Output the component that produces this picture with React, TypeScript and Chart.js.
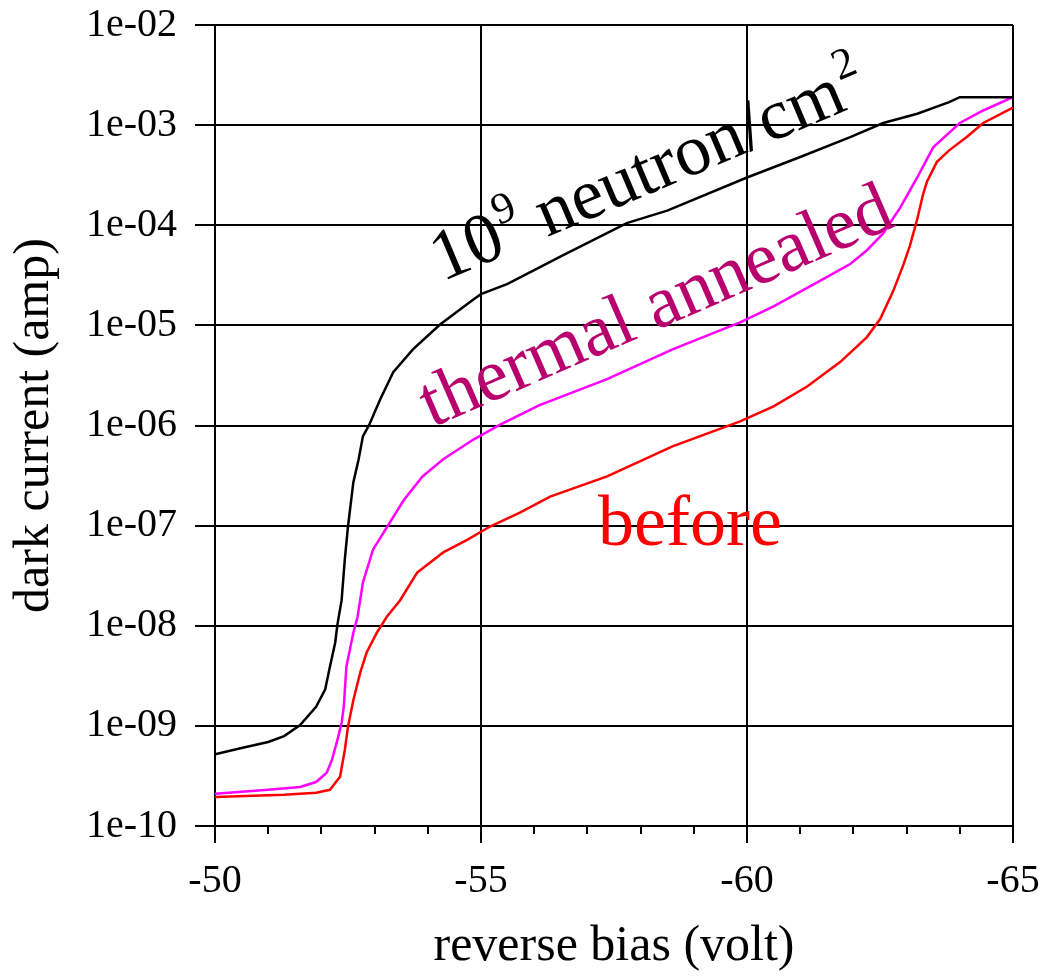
import React, { useEffect, useRef } from "react";
import { Chart, registerables } from "chart.js";

Chart.register(...registerables);

// reverse bias (volt) and dark current (amp) for each curve
const biasNeutron = [-50, -50.5, -51, -51.3, -51.6, -51.9, -52.07, -52.16, -52.26, -52.3, -52.38, -52.44, -52.5, -52.6, -52.7, -52.78, -52.9, -53.1, -53.35, -53.72, -54.23, -54.85, -55, -55.5, -56.5, -57.74, -58.5, -60, -61, -61.94, -62.56, -63.2, -63.8, -64.0, -65];
const currentNeutron = [5.2e-10, 6.0e-10, 6.9e-10, 7.9e-10, 1.02e-9, 1.55e-9, 2.3e-9, 3.9e-9, 6.8e-9, 1.02e-8, 1.8e-8, 4.6e-8, 9.8e-8, 2.7e-7, 4.6e-7, 7.8e-7, 1.02e-6, 1.8e-6, 3.4e-6, 5.75e-6, 1.02e-5, 1.8e-5, 2.05e-5, 2.6e-5, 4.9e-5, 1.05e-4, 1.4e-4, 3.0e-4, 4.8e-4, 7.6e-4, 1.05e-3, 1.3e-3, 1.7e-3, 1.9e-3, 1.9e-3];

const biasAnnealed = [-50, -51, -51.6, -51.9, -52.1, -52.2, -52.3, -52.38, -52.42, -52.47, -52.6, -52.68, -52.78, -52.97, -53.26, -53.55, -53.9, -54.29, -54.85, -55.36, -56.1, -57.37, -58.6, -59.87, -60.5, -61.43, -61.94, -62.25, -62.56, -62.88, -63.2, -63.5, -64.0, -64.44, -65];
const currentAnnealed = [2.1e-10, 2.3e-10, 2.45e-10, 2.75e-10, 3.4e-10, 4.6e-10, 7.2e-10, 1.07e-9, 1.55e-9, 3.9e-9, 8.5e-9, 1.23e-8, 2.7e-8, 5.75e-8, 1.02e-7, 1.8e-7, 3.1e-7, 4.6e-7, 7.2e-7, 1.02e-6, 1.6e-6, 2.9e-6, 5.75e-6, 1.07e-5, 1.55e-5, 2.9e-5, 4.1e-5, 5.6e-5, 8.3e-5, 1.5e-4, 3.0e-4, 6.0e-4, 1.05e-3, 1.4e-3, 1.9e-3];

const biasBefore = [-50, -51.3, -51.9, -52.16, -52.35, -52.44, -52.5, -52.6, -52.73, -52.85, -53.04, -53.23, -53.48, -53.8, -54.29, -54.74, -55.17, -55.73, -56.3, -57.37, -58.6, -59.87, -60.5, -61.13, -61.75, -62.25, -62.5, -62.74, -62.93, -63.06, -63.2, -63.3, -63.38, -63.57, -63.8, -64.13, -64.44, -65];
const currentBefore = [1.95e-10, 2.05e-10, 2.15e-10, 2.3e-10, 3.1e-10, 5.75e-10, 9.8e-10, 1.8e-9, 3.4e-9, 5.4e-9, 8.5e-9, 1.23e-8, 1.8e-8, 3.4e-8, 5.4e-8, 7.2e-8, 9.8e-8, 1.35e-7, 1.95e-7, 3.1e-7, 6.2e-7, 1.1e-6, 1.55e-6, 2.45e-6, 4.3e-6, 7.6e-6, 1.15e-5, 2.15e-5, 3.9e-5, 6.2e-5, 1.15e-4, 1.95e-4, 2.7e-4, 4.3e-4, 5.6e-4, 7.6e-4, 1.05e-3, 1.5e-3];

const yTickExponents = [-10, -9, -8, -7, -6, -5, -4, -3, -2];
const xMajorTicks = [-50, -55, -60, -65];
const xMinorTicks = [-51, -52, -53, -54, -56, -57, -58, -59, -61, -62, -63, -64];

const SERIF = "'Liberation Serif', 'Times New Roman', serif";

export default function App() {
  const ref = useRef<HTMLCanvasElement>(null);

  useEffect(() => {
    if (!ref.current) return;
    const pts = (xs: number[], ys: number[]) => xs.map((x, i) => ({ x, y: ys[i] }));

    const minorTickPlugin = {
      id: "minorTicks",
      afterDraw(chart: any) {
        const xs = chart.scales.x;
        const ctx = chart.ctx;
        const bottom = chart.chartArea.bottom;
        ctx.save();
        ctx.strokeStyle = "#000";
        ctx.lineWidth = 2;
        xMinorTicks.forEach((v) => {
          const px = Math.round(xs.getPixelForValue(v));
          ctx.beginPath();
          ctx.moveTo(px, bottom);
          ctx.lineTo(px, bottom + 8);
          ctx.stroke();
        });
        ctx.restore();
      },
    };

    const labelPlugin = {
      id: "curveLabels",
      afterDraw(chart: any) {
        const xs = chart.scales.x;
        const ys = chart.scales.y;
        const ctx = chart.ctx;
        ctx.save();
        ctx.textBaseline = "alphabetic";
        ctx.textAlign = "left";

        // 10^9 neutron/cm^2
        ctx.save();
        ctx.translate(xs.getPixelForValue(-54.27), ys.getPixelForValue(2.72e-5));
        ctx.rotate((-23 * Math.PI) / 180);
        ctx.fillStyle = "#000";
        ctx.font = `72px ${SERIF}`;
        let cx = 0;
        ctx.fillText("10", cx, 0);
        cx += ctx.measureText("10").width + 2;
        ctx.font = `44px ${SERIF}`;
        ctx.fillText("9", cx, -30);
        cx += ctx.measureText("9").width;
        ctx.font = `72px ${SERIF}`;
        ctx.fillText(" neutron/cm", cx, 0);
        cx += ctx.measureText(" neutron/cm").width + 2;
        ctx.font = `44px ${SERIF}`;
        ctx.fillText("2", cx, -30);
        ctx.restore();

        // thermal annealed
        ctx.save();
        ctx.translate(xs.getPixelForValue(-54.08), ys.getPixelForValue(9.5e-7));
        ctx.rotate((-23.5 * Math.PI) / 180);
        ctx.fillStyle = "#B8006E";
        ctx.font = `74px ${SERIF}`;
        ctx.fillText("thermal annealed", 0, 0);
        ctx.restore();

        // before
        ctx.fillStyle = "#FF0000";
        ctx.font = `72px ${SERIF}`;
        ctx.fillText("before", xs.getPixelForValue(-57.2), ys.getPixelForValue(6.4e-8));
        ctx.restore();
      },
    };

    const chart = new Chart(ref.current, {
      type: "line",
      data: {
        datasets: [
          {
            label: "10^9 neutron/cm^2",
            data: pts(biasNeutron, currentNeutron),
            borderColor: "#000000",
            borderWidth: 2.5,
            pointRadius: 0,
            tension: 0,
            fill: false,
          },
          {
            label: "thermal annealed",
            data: pts(biasAnnealed, currentAnnealed),
            borderColor: "#FF00FF",
            borderWidth: 2.5,
            pointRadius: 0,
            tension: 0,
            fill: false,
          },
          {
            label: "before",
            data: pts(biasBefore, currentBefore),
            borderColor: "#FF0000",
            borderWidth: 2.5,
            pointRadius: 0,
            tension: 0,
            fill: false,
          },
        ],
      },
      options: {
        animation: false,
        responsive: true,
        maintainAspectRatio: false,
        layout: { padding: { left: 0, top: 25, right: 31, bottom: 0 } },
        plugins: {
          legend: { display: false },
          tooltip: { enabled: false },
        },
        scales: {
          x: {
            type: "linear",
            reverse: true,
            min: -65,
            max: -50,
            afterFit(scale: any) {
              scale.height = 151;
              scale.paddingLeft = 0;
              scale.paddingRight = 0;
            },
            afterBuildTicks(scale: any) {
              scale.ticks = xMajorTicks.map((v) => ({ value: v }));
            },
            ticks: {
              autoSkip: false,
              maxRotation: 0,
              padding: 14,
              color: "#000",
              font: { family: SERIF, size: 40 },
              callback: (v: any) => String(v),
            },
            grid: {
              color: "#000",
              lineWidth: 2,
              tickLength: 17,
            },
            border: { color: "#000", width: 2 },
            title: {
              display: true,
              text: "reverse bias (volt)",
              color: "#000",
              font: { family: SERIF, size: 50, lineHeight: 1 },
              padding: { top: 0, bottom: 5 },
            },
          },
          y: {
            type: "logarithmic",
            min: 1e-10,
            max: 1e-2,
            afterFit(scale: any) {
              scale.width = 215;
              scale.paddingTop = 0;
              scale.paddingBottom = 0;
            },
            afterBuildTicks(scale: any) {
              scale.ticks = yTickExponents.map((e) => ({ value: Math.pow(10, e) }));
            },
            ticks: {
              autoSkip: false,
              padding: 18,
              color: "#000",
              font: { family: SERIF, size: 40 },
              callback: (v: any) => {
                const e = Math.round(Math.log10(Number(v)));
                return "1e-" + String(-e).padStart(2, "0");
              },
            },
            grid: {
              color: "#000",
              lineWidth: 2,
              tickLength: 20,
            },
            border: { color: "#000", width: 2 },
            title: {
              display: true,
              text: "dark current (amp)",
              color: "#000",
              font: { family: SERIF, size: 50, lineHeight: 1 },
              padding: { top: 10, bottom: 0 },
            },
          },
        },
      },
      plugins: [minorTickPlugin, labelPlugin],
    });

    return () => chart.destroy();
  }, []);

  return (
    <div style={{ position: "fixed", left: 0, top: 0, width: 1044, height: 977, background: "#fff" }}>
      <canvas ref={ref} />
    </div>
  );
}
